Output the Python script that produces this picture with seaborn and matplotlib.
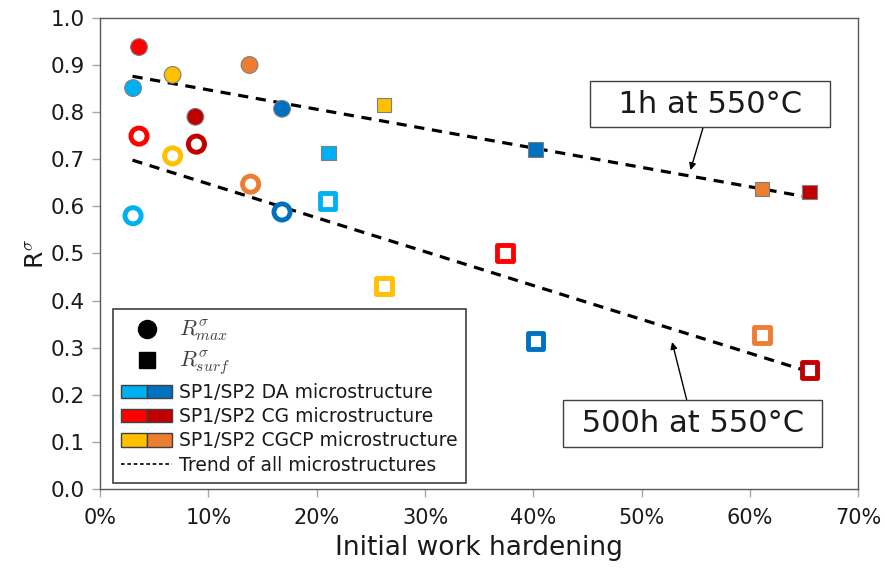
import numpy as np
import pandas as pd
import matplotlib
matplotlib.use("Agg")
import matplotlib.pyplot as plt
import seaborn as sns
from matplotlib.lines import Line2D
from matplotlib.patches import Patch
from matplotlib.legend_handler import HandlerTuple
from matplotlib.ticker import PercentFormatter

# ---------------- data ----------------
palette = {
    "DA SP1": "#00B0F0", "DA SP2": "#0070C0",
    "CG SP1": "#FF0000", "CG SP2": "#C00000",
    "CGCP SP1": "#FFC000", "CGCP SP2": "#ED7D31",
}

# 1h at 550C, R_max (filled circles)
max1h_group = ["DA SP1", "CG SP1", "CGCP SP1", "CGCP SP2", "CG SP2", "DA SP2"]
max1h_x = [3.05, 3.6, 6.7, 13.8, 8.8, 16.8]
max1h_y = [0.851, 0.938, 0.879, 0.900, 0.790, 0.807]

# 1h at 550C, R_surf (filled squares)
surf1h_group = ["DA SP1", "CGCP SP1", "DA SP2", "CGCP SP2", "CG SP2"]
surf1h_x = [21.1, 26.2, 40.2, 61.1, 65.5]
surf1h_y = [0.713, 0.815, 0.720, 0.637, 0.630]

# 500h at 550C, R_max (open circles)
max500_group = ["CG SP1", "CG SP2", "CGCP SP1", "CGCP SP2", "DA SP1", "DA SP2"]
max500_x = [3.6, 8.9, 6.7, 13.9, 3.05, 16.8]
max500_y = [0.749, 0.732, 0.707, 0.647, 0.580, 0.588]

# 500h at 550C, R_surf (open squares)
surf500_group = ["DA SP1", "CGCP SP1", "CG SP1", "DA SP2", "CGCP SP2", "CG SP2"]
surf500_x = [21.0, 26.2, 37.4, 40.2, 61.1, 65.5]
surf500_y = [0.611, 0.431, 0.501, 0.314, 0.327, 0.253]

# trend lines (endpoints)
trend_x = [3.0, 65.7]
trend_1h = [0.876, 0.618]
trend_500h = [0.698, 0.247]

x_ticks = [0, 10, 20, 30, 40, 50, 60, 70]
y_ticks = [0.0, 0.1, 0.2, 0.3, 0.4, 0.5, 0.6, 0.7, 0.8, 0.9, 1.0]

# ---------------- style ----------------
sns.set_style("white")
plt.rcParams["font.family"] = ["DejaVu Sans"]
plt.rcParams["mathtext.fontset"] = "cm"

fig = plt.figure(figsize=(8.85, 5.76), dpi=100)
ax = fig.add_axes([0.113, 0.151, 0.857, 0.818])

# trend lines
sns.lineplot(x=trend_x, y=trend_1h, color="black", lw=2.3,
             linestyle=(0, (3.2, 2.4)), ax=ax, zorder=2)
sns.lineplot(x=trend_x, y=trend_500h, color="black", lw=2.3,
             linestyle=(0, (3.2, 2.4)), ax=ax, zorder=2)

# filled markers
sns.scatterplot(x=max1h_x, y=max1h_y, hue=max1h_group, palette=palette,
                marker="o", s=145, edgecolor="#7f7f7f", linewidth=0.8,
                legend=False, ax=ax, zorder=3)
sns.scatterplot(x=surf1h_x, y=surf1h_y, hue=surf1h_group, palette=palette,
                marker="s", s=110, edgecolor="#7f7f7f", linewidth=0.8,
                legend=False, ax=ax, zorder=3)

# open markers
n_before = len(ax.collections)
sns.scatterplot(x=max500_x, y=max500_y, hue=max500_group, palette=palette,
                marker="o", s=135, linewidth=3.5, legend=False, ax=ax, zorder=3)
sns.scatterplot(x=surf500_x, y=surf500_y, hue=surf500_group, palette=palette,
                marker="s", s=125, linewidth=3.5, legend=False, ax=ax, zorder=3)
for coll in ax.collections[n_before:]:
    fc = coll.get_facecolors()
    coll.set_edgecolors(fc)
    coll.set_facecolors("white")
    coll.set_joinstyle("round")

# axes
ax.set_xlim(0, 70)
ax.set_ylim(0, 1.0)
ax.set_xticks(x_ticks)
ax.set_yticks(y_ticks)
ax.xaxis.set_major_formatter(PercentFormatter(decimals=0))
ax.yaxis.set_major_formatter(matplotlib.ticker.FormatStrFormatter("%.1f"))
ax.tick_params(axis="both", which="major", direction="out", length=6,
               width=1, color="#a6a6a6", labelsize=15.5, labelcolor="#1a1a1a",
               bottom=True, left=True, pad=5)
ax.tick_params(axis="x", labelsize=15, pad=8)
for s in ax.spines.values():
    s.set_color("#595959")
    s.set_linewidth(1.0)
ax.set_xlabel("Initial work hardening", fontsize=19, color="#1a1a1a", labelpad=5)
ax.set_ylabel(r"R$^{\sigma}$", fontsize=18, color="#1a1a1a", labelpad=2)

# annotations
ax.annotate("  1h at 550°C  ", xy=(54.5, 0.677), xytext=(56.3, 0.817),
            ha="center", va="center", fontsize=22, color="#1a1a1a",
            bbox=dict(boxstyle="square,pad=0.28", fc="white", ec="#404040", lw=1),
            arrowprops=dict(arrowstyle="-|>", color="black", lw=1,
                            mutation_scale=10, shrinkA=0, shrinkB=0),
            zorder=5)
ax.annotate(" 500h at 550°C ", xy=(52.8, 0.312), xytext=(54.7, 0.139),
            ha="center", va="center", fontsize=22, color="#1a1a1a",
            bbox=dict(boxstyle="square,pad=0.28", fc="white", ec="#404040", lw=1),
            arrowprops=dict(arrowstyle="-|>", color="black", lw=1,
                            mutation_scale=10, shrinkA=0, shrinkB=0),
            zorder=5)

# legend
edge = "#404040"
handles = [
    Line2D([], [], marker="o", color="black", linestyle="none", markersize=13),
    Line2D([], [], marker="s", color="black", linestyle="none", markersize=12),
    (Patch(fc=palette["DA SP1"], ec=edge), Patch(fc=palette["DA SP2"], ec=edge)),
    (Patch(fc=palette["CG SP1"], ec=edge), Patch(fc=palette["CG SP2"], ec=edge)),
    (Patch(fc=palette["CGCP SP1"], ec=edge), Patch(fc=palette["CGCP SP2"], ec=edge)),
    Line2D([], [], color="black", lw=1.2, linestyle=(0, (2.2, 1.6))),
]
labels = [r"$R^{\sigma}_{max}$", r"$R^{\sigma}_{surf}$",
          "SP1/SP2 DA microstructure", "SP1/SP2 CG microstructure",
          "SP1/SP2 CGCP microstructure", "Trend of all microstructures"]
leg = ax.legend(handles, labels, loc="upper left", bbox_to_anchor=(0.017, 0.382),
                handler_map={tuple: HandlerTuple(ndivide=None, pad=0)},
                fontsize=13.5, frameon=True, fancybox=False, framealpha=1,
                edgecolor="#404040", handlelength=2.7, handleheight=0.75,
                handletextpad=0.35, labelspacing=0.28, borderpad=0.45,
                borderaxespad=0)
leg.get_frame().set_linewidth(1.2)
for t in leg.get_texts()[:2]:
    t.set_color("#404040")
    t.set_fontsize(16)
for t in leg.get_texts()[2:]:
    t.set_color("#1a1a1a")

fig.savefig("out.png", dpi=100, facecolor="white")
